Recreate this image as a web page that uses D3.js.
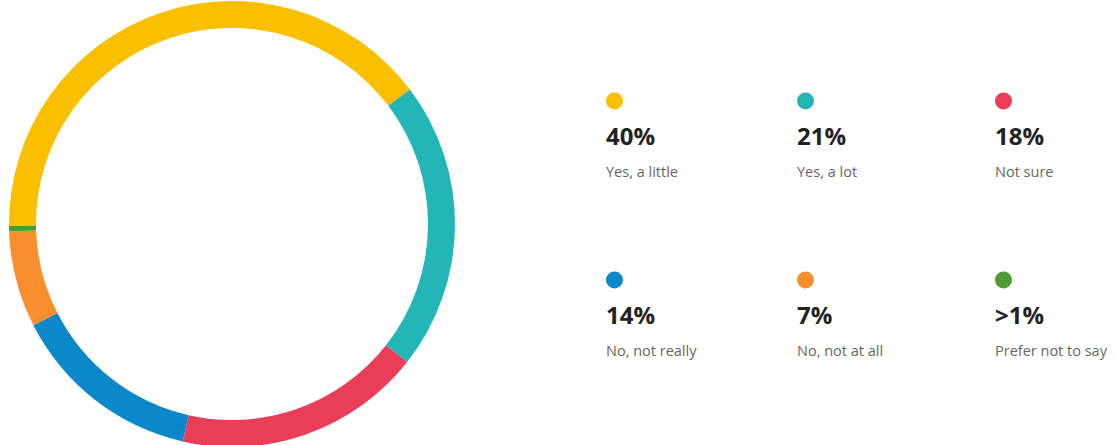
<!DOCTYPE html>
<html>
<head>
<meta charset="utf-8">
<script src="https://cdn.jsdelivr.net/npm/d3@7"></script>
<style>
  html, body { margin: 0; padding: 0; background: #fff; }
  svg { display: block; }
</style>
</head>
<body>
<svg id="chart" width="1115" height="445"></svg>
<script>
const categories = ["Yes, a little", "Yes, a lot", "Not sure", "No, not really", "No, not at all", "Prefer not to say"];
const values = [40, 21, 18, 14, 7, 0.4];
const percentLabels = ["40%", "21%", "18%", "14%", "7%", ">1%"];
const colors = ["#F9BF00", "#23B6B6", "#E93D58", "#0B88CA", "#F98E2F", "#4E9A35"];

const svg = d3.select("#chart");
const cx = 232, cy = 224, outerR = 223, innerR = 196;

const pie = d3.pie().sort(null).value(d => d)
  .startAngle(-90.5 * Math.PI / 180)
  .endAngle((360 - 90.5) * Math.PI / 180);
const arc = d3.arc().innerRadius(innerR).outerRadius(outerR);

svg.append("g").attr("transform", `translate(${cx},${cy})`)
  .selectAll("path").data(pie(values)).join("path")
  .attr("d", arc)
  .attr("fill", (d, i) => colors[i]);

const colX = [606, 797, 995];
const rowY = [101, 280];
const legend = svg.append("g");
categories.forEach((c, i) => {
  const x = colX[i % 3], y = rowY[Math.floor(i / 3)];
  const g = legend.append("g").attr("transform", `translate(${x},${y})`);
  g.append("circle").attr("cx", 8.5).attr("cy", 0).attr("r", 8.5).attr("fill", colors[i]);
  g.append("text").attr("x", 0).attr("y", 44)
    .attr("font-family", "'Open Sans', sans-serif").attr("font-weight", 700)
    .attr("font-size", 24).attr("fill", "#222").text(percentLabels[i]);
  g.append("text").attr("x", 0).attr("y", 76)
    .attr("font-family", "'Open Sans', sans-serif").attr("font-size", 14.5)
    .attr("fill", "#666").text(c);
});
</script>
</body>
</html>
